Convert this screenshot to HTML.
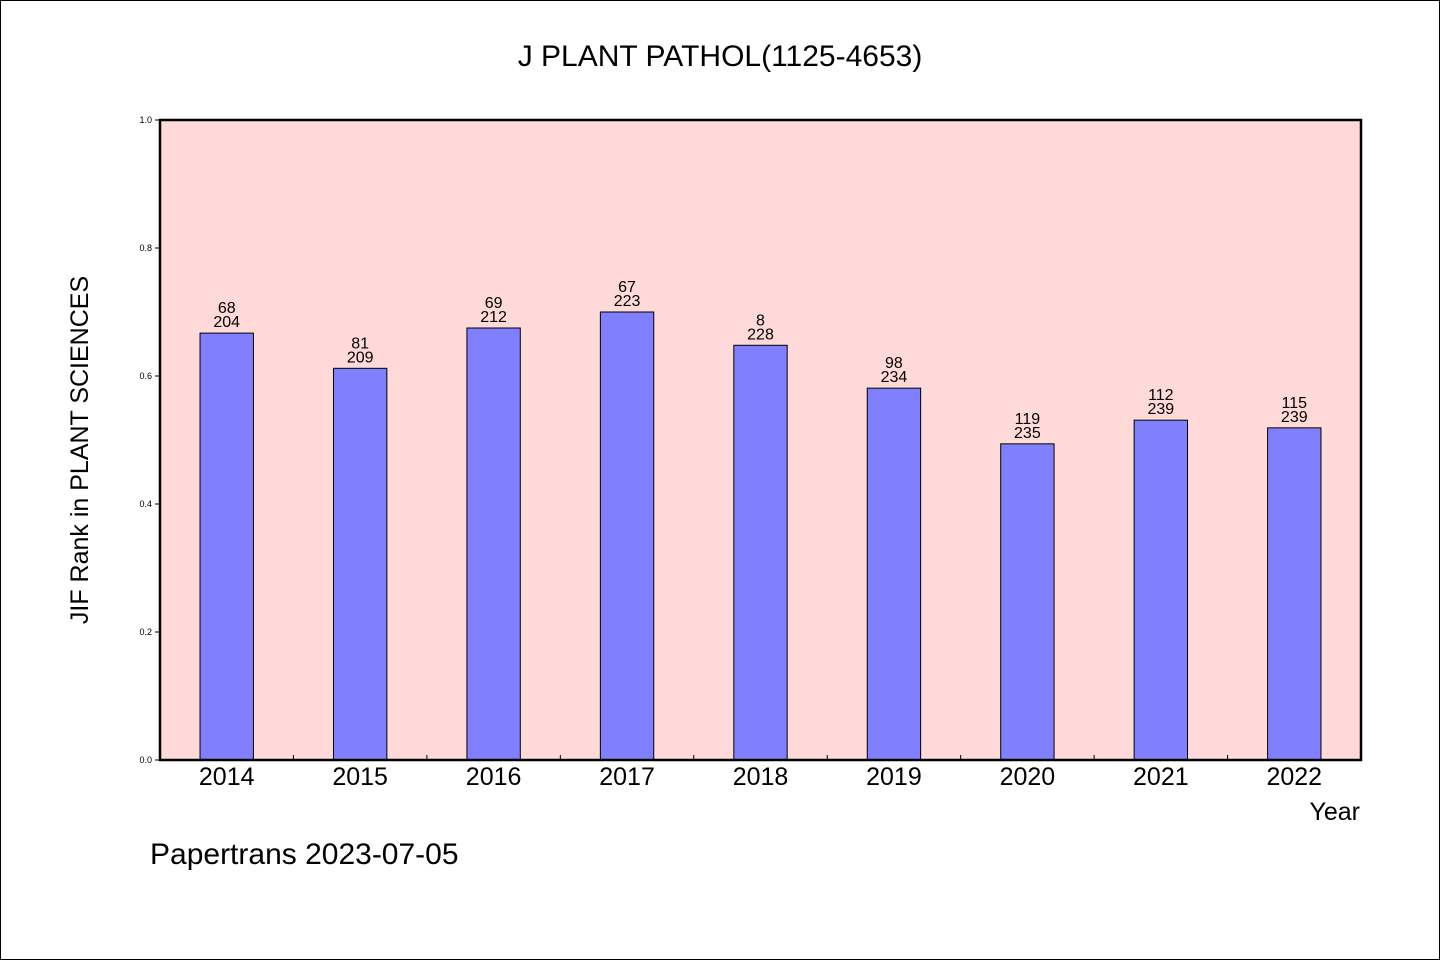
<!DOCTYPE html>
<html><head><meta charset="utf-8"><style>
body{margin:0;background:#fff}
svg{display:block}
text{font-family:"WenQuanYi Zen Hei","Liberation Sans",sans-serif;fill:#000}
</style></head><body>
<svg id="chart" width="1440" height="960" viewBox="0 0 1440 960">
<rect x="0.5" y="0.5" width="1439" height="959" fill="#fff" stroke="#000"/>
<text x="720" y="66" font-size="30" text-anchor="middle">J PLANT PATHOL(1125-4653)</text>
<rect x="160" y="120" width="1201" height="640" fill="#FFDAD8"/>
<g id="bars"></g>
<g id="yticks"></g>
<g id="xticks"></g>
<rect x="160" y="120" width="1201" height="640" fill="none" stroke="#000" stroke-width="2.5"/>
<text transform="translate(88,450) rotate(-90)" font-size="25" text-anchor="middle">JIF Rank in PLANT SCIENCES</text>
<text x="1360" y="820" font-size="25" text-anchor="end">Year</text>
<text x="150" y="864" font-size="30">Papertrans 2023-07-05</text>
</svg>
<script>
const years=["2014","2015","2016","2017","2018","2019","2020","2021","2022"];
const values=[0.667,0.612,0.675,0.700,0.648,0.581,0.494,0.531,0.519];
const ranks=["68","81","69","67","8","98","119","112","115"];
const totals=["204","209","212","223","228","234","235","239","239"];
const yTickLabels=["0.0","0.2","0.4","0.6","0.8","1.0"];
const NS="http://www.w3.org/2000/svg";
const X0=160,X1=1361,Y0=760,Y1=120;
const band=(X1-X0)/years.length;
const xc=i=>X0+band*(i+0.5);
const y=v=>Y0-(Y0-Y1)*v;
function mk(tag,attrs,parent){const e=document.createElementNS(NS,tag);for(const k in attrs)e.setAttribute(k,attrs[k]);parent.appendChild(e);return e;}
const gb=document.getElementById('bars'),gy=document.getElementById('yticks'),gx=document.getElementById('xticks');
const bw=band*0.4;
years.forEach((yr,i)=>{
  const r=mk('rect',{x:xc(i)-bw/2,y:y(values[i]),width:bw,height:Y0-y(values[i]),fill:'#8080FF',stroke:'#000','stroke-width':1},gb);
  
  
  const t1=mk('text',{x:xc(i),y:y(values[i])-20,'font-size':16,'text-anchor':'middle'},gb);t1.textContent=ranks[i];
  
  
  const t2=mk('text',{x:xc(i),y:y(values[i])-6,'font-size':16,'text-anchor':'middle'},gb);t2.textContent=totals[i];
  
  
  const xl=mk('text',{x:xc(i),y:785,'font-size':25,'text-anchor':'middle'},gx);xl.textContent=yr;
  
  
  if(i>0){const tk=mk('line',{x1:X0+band*i,x2:X0+band*i,y1:Y0,y2:Y0-5,stroke:'#000','stroke-width':1},gx);
  
  }
});
yTickLabels.forEach((lab,i)=>{
  const v=i*0.2;
  const tk=mk('line',{x1:X0-5,x2:X0,y1:y(v),y2:y(v),stroke:'#000','stroke-width':1},gy);
  
  
  const t=mk('text',{x:X0-8,y:y(v)+3,'font-size':9,'text-anchor':'end'},gy);t.textContent=lab;
  
  
});
</script>
</body></html>
